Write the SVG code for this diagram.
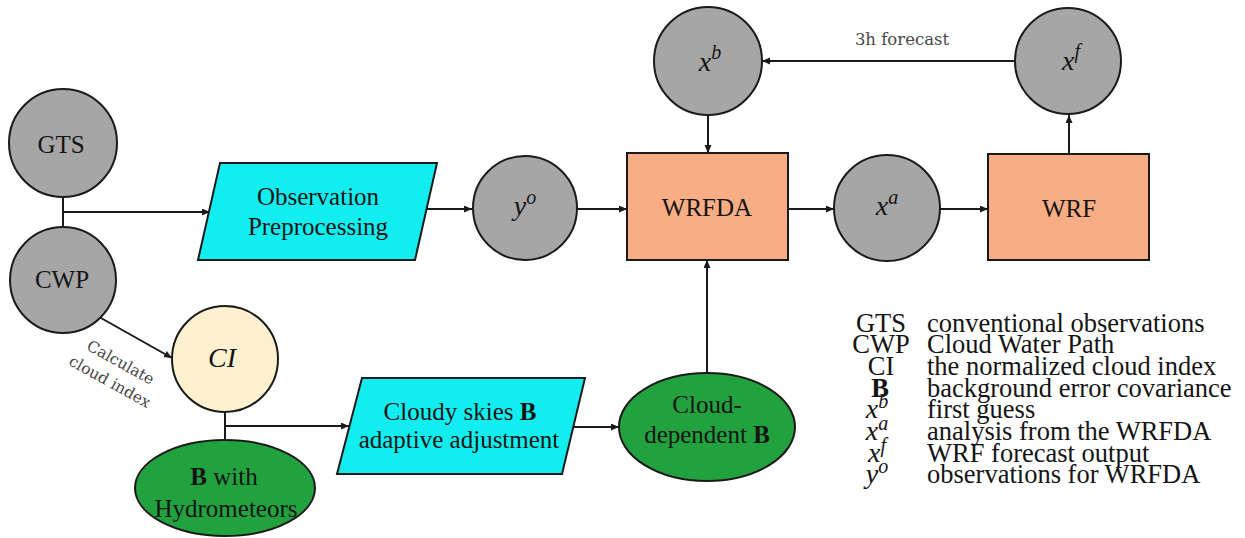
<svg xmlns="http://www.w3.org/2000/svg" width="1245" height="538" viewBox="0 0 1245 538">
<style>
.nd{stroke:#1a1a1a;stroke-width:2}
.gray{fill:#a6a6a6}
.cyan{fill:#12eeef}
.org{fill:#f9ad84}
.grn{fill:#22a23f}
.ci{fill:#fff0cf}
.t{font-family:"Liberation Serif",serif;font-size:25px;fill:#141414;text-anchor:middle}
.m{font-family:"Liberation Serif",serif;font-style:italic;font-size:28px;fill:#141414;text-anchor:middle}
.lab{font-family:"DejaVu Serif",serif;fill:#484848;text-anchor:middle}
.lg{font-family:"Liberation Serif",serif;font-size:26.5px;fill:#141414}
.lgs{text-anchor:middle}
.c{stroke:#1a1a1a;stroke-width:2;fill:none}
.a{marker-end:url(#ah)}
</style>
<defs>
<marker id="ah" markerUnits="userSpaceOnUse" markerWidth="9" markerHeight="8" refX="8" refY="3.5" orient="auto">
<path d="M0,0 L8,3.5 L0,7 z" fill="#1a1a1a"/>
</marker>
</defs>
<g id="connectors">
<path class="c" d="M63,197 V227"/>
<path class="c a" d="M63,212 H210"/>
<path class="c a" d="M426,209 H472"/>
<path class="c a" d="M578,209 H627"/>
<path class="c a" d="M708,115 V153"/>
<path class="c a" d="M788,209 H834"/>
<path class="c a" d="M940,209 H988"/>
<path class="c a" d="M1069,154 V115"/>
<path class="c a" d="M1015,61 H762"/>
<path class="c a" d="M101,318 L172,358"/>
<path class="c" d="M225,412 V440"/>
<path class="c a" d="M225,426 H349"/>
<path class="c a" d="M573,427 H619"/>
<path class="c a" d="M707,373 V260"/>
<text class="lab" x="902" y="45" font-size="16.5">3h forecast</text>
<g transform="translate(118,367) rotate(29)">
<text class="lab" x="0" y="0" font-size="15.5">Calculate</text>
<text class="lab" x="0" y="22" font-size="15.5">cloud index</text>
</g>
</g>
<g id="GTS">
<circle class="nd gray" cx="63" cy="143" r="54"/>
<text class="t" x="61" y="153">GTS</text>
</g>
<g id="CWP">
<circle class="nd gray" cx="63" cy="280" r="53"/>
<text class="t" x="62" y="288">CWP</text>
</g>
<g id="obs-pre">
<path class="nd cyan" d="M220,163 H437 L415,260 H198 Z"/>
<text class="t" x="318" y="205">Observation</text>
<text class="t" x="318" y="235">Preprocessing</text>
</g>
<g id="yo">
<circle class="nd gray" cx="525" cy="208" r="52"/>
<text class="m" x="525" y="215">y<tspan font-size="20" dy="-11">o</tspan></text>
</g>
<g id="WRFDA">
<rect class="nd org" x="627" y="153" width="161" height="107"/>
<text class="t" x="707" y="216">WRFDA</text>
</g>
<g id="xb">
<circle class="nd gray" cx="708" cy="61" r="54"/>
<text class="m" x="710" y="71">x<tspan font-size="20" dy="-12">b</tspan></text>
</g>
<g id="xa">
<circle class="nd gray" cx="887" cy="208" r="53"/>
<text class="m" x="887" y="215">x<tspan font-size="20" dy="-11">a</tspan></text>
</g>
<g id="WRF">
<rect class="nd org" x="988" y="154" width="161" height="106"/>
<text class="t" x="1069" y="217">WRF</text>
</g>
<g id="xf">
<circle class="nd gray" cx="1068" cy="61" r="53"/>
<text class="m" x="1071" y="70">x<tspan font-size="20" dy="-12">f</tspan></text>
</g>
<g id="CI">
<circle class="nd ci" cx="225" cy="359" r="53"/>
<text class="m" x="222" y="367" font-size="25">CI</text>
</g>
<g id="B-hydro">
<ellipse class="nd grn" cx="225" cy="488" rx="90" ry="48"/>
<text class="t" x="224" y="485"><tspan font-weight="bold">B</tspan> with</text>
<text class="t" x="226" y="517">Hydrometeors</text>
</g>
<g id="cloudy-adj">
<path class="nd cyan" d="M362,378 H585 L562,474 H337 Z"/>
<text class="t" x="460" y="420">Cloudy skies <tspan font-weight="bold">B</tspan></text>
<text class="t" x="459" y="448">adaptive adjustment</text>
</g>
<g id="cloud-dep-B">
<ellipse class="nd grn" cx="707" cy="427" rx="88" ry="54"/>
<text class="t" x="707" y="413">Cloud-</text>
<text class="t" x="707" y="443">dependent <tspan font-weight="bold">B</tspan></text>
</g>
<g id="legend">
<g class="lg lgs">
<text x="881" y="332">GTS</text>
<text x="881" y="353">CWP</text>
<text x="881" y="375">CI</text>
<text x="880" y="397" font-weight="bold">B</text>
<text x="877" y="418" font-style="italic" font-size="28">x<tspan font-size="20" dy="-10">b</tspan></text>
<text x="877" y="440" font-style="italic" font-size="28">x<tspan font-size="20" dy="-10">a</tspan></text>
<text x="877" y="462" font-style="italic" font-size="28">x<tspan font-size="20" dy="-10">f</tspan></text>
<text x="877" y="483" font-style="italic" font-size="28">y<tspan font-size="20" dy="-10">o</tspan></text>
</g>
<g class="lg">
<text x="927" y="332">conventional observations</text>
<text x="927" y="353">Cloud Water Path</text>
<text x="927" y="375">the normalized cloud index</text>
<text x="927" y="397">background error covariance</text>
<text x="927" y="418">first guess</text>
<text x="927" y="440">analysis from the WRFDA</text>
<text x="927" y="462">WRF forecast output</text>
<text x="927" y="483">observations for WRFDA</text>
</g>
</g>
</svg>
